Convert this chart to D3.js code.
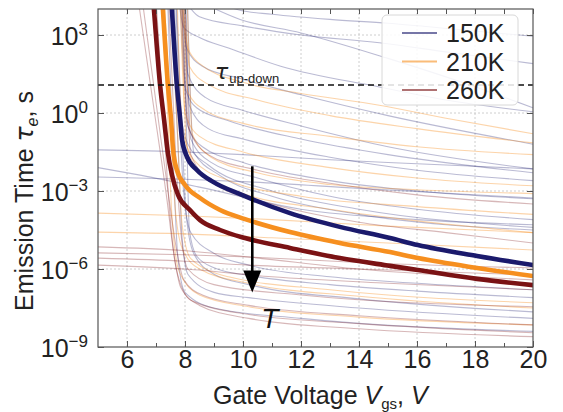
<!DOCTYPE html>
<html>
<head>
<meta charset="utf-8">
<script src="https://cdn.jsdelivr.net/npm/d3@7"></script>
<style>
  html, body { margin: 0; padding: 0; background: #fff; }
  svg { display: block; font-family: "Liberation Sans", Arial, sans-serif; }
</style>
</head>
<body>
<svg id="chart" width="563" height="412"></svg>
<script>
// ---- axis ticks and labels ----
const voltageTicks = [6, 8, 10, 12, 14, 16, 18, 20];
const voltageMinorTicks = [7, 9, 11, 13, 15, 17, 19];
const tauTickExponents = [3, 0, -3, -6, -9];
const gridVoltages = [6, 8, 10, 12, 14, 16, 18];
const gridTauExponents = [3, 0, -3, -6];
const temperatures = ["150K", "210K", "260K"];

// ---- averaged emission-time curves (gate voltage V, log10 tau in s) ----
const v150 = [7.52, 7.55, 7.72, 7.83, 7.90, 8.07, 8.41, 8.97, 9.90, 11.62, 13.34, 15.07, 16.03, 18.07, 20];
const logTau150 = [4.5, 3.96, 1.08, -0.19, -1.04, -1.69, -2.19, -2.65, -3.12, -3.85, -4.38, -4.81, -5.08, -5.50, -5.85];

const v210 = [7.21, 7.24, 7.41, 7.52, 7.59, 7.72, 8.00, 8.52, 9.21, 10.07, 11.62, 13.34, 15.07, 16.03, 18.07, 20];
const logTau210 = [4.5, 3.96, 1.08, -0.27, -1.42, -2.19, -2.77, -3.27, -3.73, -4.08, -4.58, -5.00, -5.35, -5.58, -5.96, -6.27];

const v260 = [6.89, 6.93, 7.14, 7.28, 7.41, 7.55, 7.76, 8.17, 8.52, 9.21, 10.07, 11.62, 13.34, 15.07, 16.03, 18.07, 20];
const logTau260 = [4.5, 3.96, 1.08, -0.27, -1.54, -2.38, -3.15, -3.73, -4.12, -4.50, -4.81, -5.19, -5.58, -5.88, -6.04, -6.38, -6.62];

// ---- individual trap curves, [V, log10 tau] ----
const thin150 = [
  [[7.78,4.4],[7.95,3.3],[8.5,2.9],[9.5,2.5],[11.3,1.8],[14.7,1.0],[17,0.5],[20,0.05]],
  [[8.9,4.4],[9.9,3.95],[11,3.8],[13,3.6],[15,3.45],[17.5,3.2],[20,2.95]],
  [[8.3,4.4],[9.9,3.6],[12,3.08],[15,2.1],[17.5,1.2],[20,0.2]],
  [[7.95,4.4],[8.5,3.7],[10,3.35],[12,3.0],[14.7,2.7],[17,2.35],[20,1.9]],
  [[7.88,4.4],[8.05,2.5],[8.6,1.8],[10,1.3],[12,0.7],[15,-0.1],[20,-1.2]],
  [[7.95,4.4],[8.1,1.5],[8.7,0.6],[10,0.1],[12,-0.5],[15,-1.3],[20,-2.15]],
  [[7.83,4.4],[8.0,1.0],[8.4,0.2],[9.5,-0.3],[12,-1.0],[15,-1.6],[20,-2.3]],
  [[8.0,4.4],[8.15,0.3],[8.8,-0.6],[10,-1.0],[13,-1.7],[16,-2.2],[20,-2.6]],
  [[7.93,4.4],[8.1,-0.5],[8.6,-1.3],[10,-1.9],[13,-2.6],[16,-3.0],[20,-3.3]],
  [[8.03,4.4],[8.2,-1.0],[8.9,-1.9],[10.5,-2.5],[13,-3.2],[16,-3.7],[20,-4.1]],
  [[8.08,4.4],[8.3,-1.5],[9.2,-2.4],[11,-3.2],[14,-3.9],[17,-4.3],[20,-4.5]],
  [[7.68,4.4],[7.85,0],[8.1,-1.2],[8.8,-2.0],[11,-3.0],[14,-3.7],[20,-4.4]],
  [[5,-1.42],[8,-1.5],[10,-1.6],[13,-1.8],[16,-1.95],[20,-2.15]],
  [[5,-2.46],[8,-2.55],[10.2,-2.65],[14,-2.9],[20,-3.27]],
  [[5,-2.1],[6.5,-2.4],[8.5,-2.85],[12,-3.7],[16,-4.1],[20,-4.3]],
  [[7.62,4.4],[7.8,0],[7.95,-3.0],[8.2,-4.6],[9,-5.4],[10.2,-5.85],[13,-6.3],[16,-6.55],[20,-6.8]],
  [[7.88,4.4],[8.05,-0.5],[8.15,-4.5],[8.4,-5.5],[9,-5.95],[10.2,-6.25],[13,-6.6],[16,-6.85],[20,-7.1]],
  [[7.7,4.4],[7.9,-1],[8.05,-4.0],[8.3,-5.4],[9,-6.2],[10.2,-6.6],[14,-7.15],[20,-7.65]],
  [[7.5,4.4],[7.75,-1],[7.9,-4.8],[8.1,-6.2],[9,-6.9],[10.2,-7.1],[14,-7.5],[20,-7.9]],
  [[7.4,4.4],[7.6,-2],[7.75,-5.5],[8,-6.9],[9,-7.5],[12,-7.9],[20,-8.4]]
];

const thin210 = [
  [[7.88,4.4],[8.1,2.5],[8.5,1.9],[10.1,1.15],[12,0.75],[14.7,0.3],[17,-0.2],[20,-0.8]],
  [[7.98,4.4],[8.15,1.8],[8.8,1.1],[10.5,0.5],[13,-0.1],[16,-0.6],[20,-1.15]],
  [[7.93,4.4],[8.1,0.8],[8.7,0.1],[10,-0.4],[13,-0.9],[16,-1.3],[20,-1.6]],
  [[7.83,4.4],[8.0,0.0],[8.5,-0.9],[10,-1.5],[13,-2.1],[16,-2.5],[20,-2.8]],
  [[8.08,4.4],[8.25,-0.8],[8.9,-1.7],[10.5,-2.3],[13,-2.75],[16,-2.95],[20,-3.1]],
  [[7.73,4.4],[7.9,-0.5],[8.3,-1.8],[9.5,-2.6],[12,-3.2],[16,-3.6],[20,-3.9]],
  [[7.88,4.4],[8.05,-1.2],[8.6,-2.4],[10,-3.1],[13,-3.7],[16,-4.15],[20,-4.6]],
  [[5,-3.85],[8,-3.95],[11,-4.1],[15,-4.35],[20,-4.6]],
  [[5,-4.58],[8,-4.65],[11,-4.8],[15,-5.0],[20,-5.27]],
  [[7.28,4.4],[7.5,0],[7.65,-3.5],[7.9,-5.2],[8.5,-6.0],[10.2,-6.55],[14,-7.05],[20,-7.5]],
  [[7.18,4.4],[7.4,0],[7.55,-4.0],[7.8,-6.1],[8.5,-7.0],[10.2,-7.45],[14,-7.85],[20,-8.15]],
  [[7.53,4.4],[7.75,-1],[7.9,-4.3],[8.2,-5.6],[9.5,-6.3],[13,-6.8],[20,-7.3]]
];

const thin260 = [
  [[7.88,4.4],[8.1,-0.5],[8.8,-1.6],[10.5,-2.2],[13,-2.7],[16,-3.15],[20,-3.5]],
  [[7.98,4.4],[8.2,-1.6],[9,-2.7],[11,-3.5],[14,-4.2],[17,-4.6],[20,-5.0]],
  [[5,-5.15],[8,-5.3],[10.2,-5.54],[14,-6.0],[20,-6.42]],
  [[5,-5.38],[8,-5.45],[10.2,-5.54],[14,-5.75],[20,-5.96]],
  [[5,-5.58],[8,-5.7],[10.2,-5.85],[14,-6.0],[20,-6.23]],
  [[5,-5.85],[8,-6.0],[11,-6.3],[15,-6.55],[20,-6.8]],
  [[6.38,4.4],[6.95,0],[7.38,-3.35],[7.6,-5.3],[7.85,-6.7],[8.5,-7.4],[10.2,-7.9],[14,-8.3],[20,-8.6]],
  [[6.52,4.4],[7.05,0],[7.45,-3.3],[7.7,-5.2],[7.95,-6.4],[8.6,-7.0],[10.2,-7.4],[14,-7.8],[20,-8.15]],
  [[7.0,4.4],[7.25,0],[7.45,-3.5],[7.7,-6.0],[8.2,-7.2],[10.2,-7.75],[14,-8.1],[20,-8.45]],
  [[7.43,4.4],[7.65,-1],[7.85,-4.5],[8.1,-6.0],[9,-6.6],[12,-7.0],[20,-7.45]]
];

// up-down time threshold (log10 s)
const logTauUpDown = 1.08;

// ---- layout ----
const frame = { left: 98, right: 533, top: 9, bottom: 347 };
const colors = { "150K": "#1b1a6c", "210K": "#f68f1f", "260K": "#7a1214" };
const axisColor = "#555";

const x = d3.scaleLinear().domain([5, 20]).range([frame.left, frame.right]);
const y = d3.scaleLog().domain([1e-9, 1e4]).range([frame.bottom, frame.top]);
const tau = e => Math.pow(10, e);

const svg = d3.select("#chart");
svg.append("defs").append("clipPath").attr("id", "plot-area")
  .append("rect")
  .attr("x", frame.left).attr("y", frame.top)
  .attr("width", frame.right - frame.left).attr("height", frame.bottom - frame.top);

// dotted grid
const grid = svg.append("g")
  .attr("stroke", "#c8c8c8").attr("stroke-width", 0.9).attr("stroke-dasharray", "2,2");
grid.selectAll("line.gx").data(gridVoltages).join("line").attr("class", "gx")
  .attr("x1", d => x(d)).attr("x2", d => x(d))
  .attr("y1", frame.top).attr("y2", frame.bottom);
grid.selectAll("line.gy").data(gridTauExponents).join("line").attr("class", "gy")
  .attr("x1", frame.left).attr("x2", frame.right)
  .attr("y1", d => y(tau(d))).attr("y2", d => y(tau(d)));

const line = d3.line()
  .x(d => x(d[0]))
  .y(d => y(tau(d[1])))
  .curve(d3.curveMonotoneX);

const plot = svg.append("g").attr("clip-path", "url(#plot-area)");

// individual curves
const thinSets = [["150K", thin150], ["210K", thin210], ["260K", thin260]];
thinSets.forEach(([t, curves]) => {
  plot.append("g")
    .attr("fill", "none")
    .attr("stroke", colors[t])
    .attr("stroke-opacity", t === "210K" ? 0.38 : 0.3)
    .attr("stroke-width", 1.1)
    .selectAll("path").data(curves).join("path")
    .attr("d", line);
});

// averaged curves
const thickSets = [
  ["260K", d3.zip(v260, logTau260)],
  ["210K", d3.zip(v210, logTau210)],
  ["150K", d3.zip(v150, logTau150)]
];
plot.append("g").attr("fill", "none").attr("stroke-width", 4.6).attr("stroke-linecap", "round")
  .selectAll("path").data(thickSets).join("path")
  .attr("stroke", d => colors[d[0]])
  .attr("d", d => line(d[1]));

// up-down threshold
plot.append("line")
  .attr("x1", frame.left).attr("x2", frame.right)
  .attr("y1", y(tau(logTauUpDown))).attr("y2", y(tau(logTauUpDown)))
  .attr("stroke", "#111").attr("stroke-width", 1.5).attr("stroke-dasharray", "6,4");

const tauLabel = svg.append("text").attr("x", 215).attr("y", 79).attr("fill", "#222");
tauLabel.append("tspan").attr("font-family", "DejaVu Sans").attr("font-style", "italic")
  .attr("font-size", 22).text("τ");
tauLabel.append("tspan").attr("font-size", 13).attr("dy", 4).attr("dx", 1).text("up-down");

// temperature arrow
const arrowV = 10.32;
const ax = x(arrowV), ay1 = y(tau(-2.05)), ay2 = y(tau(-6.9));
svg.append("line").attr("x1", ax).attr("x2", ax).attr("y1", ay1).attr("y2", ay2 - 16)
  .attr("stroke", "#000").attr("stroke-width", 2.6);
svg.append("path")
  .attr("d", `M${ax - 9},${ay2 - 22} L${ax + 9},${ay2 - 22} L${ax},${ay2} Z`)
  .attr("fill", "#000");
svg.append("text").attr("x", ax + 9).attr("y", y(tau(-8.27)))
  .attr("font-size", 28).attr("font-style", "italic").attr("fill", "#111").text("T");

// ---- axes ----
function styleAxis(g) {
  g.select(".domain").remove();
  g.selectAll(".tick line").attr("stroke", axisColor).attr("stroke-width", 1);
}

svg.append("g").attr("transform", `translate(0,${frame.bottom})`)
  .call(d3.axisBottom(x).tickValues(voltageTicks).tickSize(-6).tickPadding(3).tickFormat(d3.format("d")))
  .call(styleAxis)
  .call(g => g.selectAll("text").attr("font-size", 25).attr("fill", "#222")
    .attr("font-family", "Liberation Sans, Arial, sans-serif"));
svg.append("g").attr("transform", `translate(0,${frame.bottom})`)
  .call(d3.axisBottom(x).tickValues(voltageMinorTicks).tickSize(-4).tickFormat(""))
  .call(styleAxis);
svg.append("g").attr("transform", `translate(0,${frame.top})`)
  .call(d3.axisTop(x).tickValues(voltageTicks.concat(voltageMinorTicks)).tickSize(-5).tickFormat(""))
  .call(styleAxis);

const leftAxis = svg.append("g").attr("transform", `translate(${frame.left},0)`)
  .call(d3.axisLeft(y).tickValues(tauTickExponents.map(tau)).tickSize(-6).tickFormat(""))
  .call(styleAxis);
leftAxis.selectAll(".tick").each(function(d) {
  const e = Math.round(Math.log10(d));
  const t = d3.select(this).append("text")
    .attr("x", -10).attr("dy", "0.36em").attr("text-anchor", "end")
    .attr("fill", "#222").attr("font-size", 25);
  t.append("tspan").text("10");
  t.append("tspan").attr("font-size", 17).attr("dy", -10)
    .text(e < 0 ? "\u2212" + Math.abs(e) : String(e));
});
svg.append("g").attr("transform", `translate(${frame.right},0)`)
  .call(d3.axisRight(y).tickValues(tauTickExponents.map(tau)).tickSize(-6).tickFormat(""))
  .call(styleAxis);

// frame
svg.append("rect")
  .attr("x", frame.left).attr("y", frame.top)
  .attr("width", frame.right - frame.left).attr("height", frame.bottom - frame.top)
  .attr("fill", "none").attr("stroke", axisColor).attr("stroke-width", 1.2);

// axis titles
const xTitle = svg.append("text").attr("x", 213).attr("y", 404)
  .attr("font-size", 25).attr("fill", "#222");
xTitle.append("tspan").text("Gate Voltage ");
xTitle.append("tspan").attr("font-style", "italic").text("V");
xTitle.append("tspan").attr("font-size", 15).attr("dy", 5).text("gs");
xTitle.append("tspan").attr("dy", -5).text(", ");
xTitle.append("tspan").attr("font-style", "italic").text("V");

const yTitle = svg.append("text").attr("transform", "translate(33,201) rotate(-90)")
  .attr("text-anchor", "middle").attr("font-size", 25).attr("fill", "#222");
yTitle.append("tspan").text("Emission Time ");
yTitle.append("tspan").attr("font-family", "DejaVu Sans").attr("font-style", "italic").text("τ");
yTitle.append("tspan").attr("font-size", 16).attr("dy", 5).attr("font-style", "italic").text("e");
yTitle.append("tspan").attr("dy", -5).text(", s");

// legend
const legend = svg.append("g");
legend.append("rect")
  .attr("x", 382).attr("y", 15).attr("width", 136).attr("height", 90).attr("rx", 5)
  .attr("fill", "#fff").attr("fill-opacity", 0.85).attr("stroke", "#d8d8d8").attr("stroke-width", 1);
const items = legend.selectAll("g.item").data(temperatures).join("g").attr("class", "item")
  .attr("transform", (d, i) => `translate(0,${33 + i * 28.5})`);
items.append("line").attr("x1", 402).attr("x2", 437)
  .attr("stroke", d => colors[d]).attr("stroke-opacity", 0.6).attr("stroke-width", 1.8);
items.append("text").attr("x", 446).attr("y", 9).attr("font-size", 25).attr("fill", "#222")
  .text(d => d);
</script>
</body>
</html>
